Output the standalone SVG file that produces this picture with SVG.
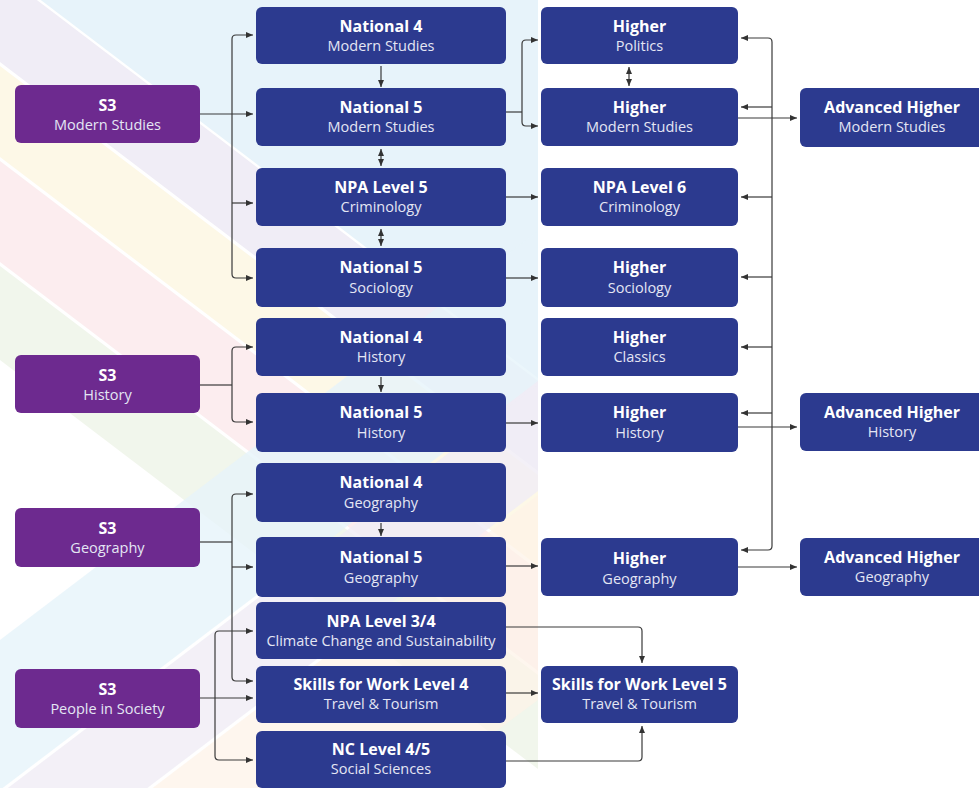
<svg xmlns="http://www.w3.org/2000/svg" width="979" height="788" viewBox="0 0 979 788">
<defs>
<clipPath id="bgclip"><rect x="0" y="0" width="538" height="788"/></clipPath>
<marker id="ah" markerUnits="userSpaceOnUse" markerWidth="8" markerHeight="8" refX="7" refY="3" orient="auto-start-reverse"><path d="M0,0 L7,3 L0,6 z" fill="#333"/></marker>
</defs>
<style>
.n rect{fill:#2c3a8f;}
.p rect{fill:#6d2a8f;}
.t{font-family:"Open Sans","Liberation Sans",sans-serif;font-weight:bold;font-size:16px;fill:#fff;text-anchor:middle;}
.s{font-family:"Open Sans","Liberation Sans",sans-serif;font-size:14.5px;fill:#e4e6f4;text-anchor:middle;}
.c path{fill:none;stroke:#3a3a3a;stroke-width:1.2;}
.a{marker-end:url(#ah);}
.b{marker-start:url(#ah);marker-end:url(#ah);}
</style>
<rect width="979" height="788" fill="#fff"/>
<g id="background" clip-path="url(#bgclip)" opacity="0.75">
<polygon points="0,-450 538,-41 538,378 0,-31" fill="#dff0f9"/>
<polygon points="0,-28 538,381 538,471 0,62" fill="#ebe7f3"/>
<polygon points="0,66 538,475 538,566 0,157" fill="#fdf6e0"/>
<polygon points="0,161 538,570 538,671 0,262" fill="#fbe8ea"/>
<polygon points="0,266 538,675 538,769 0,360" fill="#edf3e6"/>
<polygon points="0,640 538,231 538,381 0,790" fill="#dff0f9" opacity="0.8"/>
<polygon points="0,794 538,385 538,491 0,900" fill="#ebe7f3" opacity="0.8"/>
<polygon points="0,904 538,495 538,700 0,1100" fill="#fdf0e0" opacity="0.7"/>
</g>
<g id="connectors" class="c">
<path class="a" d="M200,114 H253"/>
<path class="b" d="M253,35 H236 Q232,35 232,39 V274 Q232,278 236,278 H253"/>
<path class="a" d="M232,203 H253"/>
<path d="M200,385 H232"/>
<path class="b" d="M253,347 H236 Q232,347 232,351 V418 Q232,422 236,422 H253"/>
<path d="M200,542 H232"/>
<path class="b" d="M253,494 H236 Q232,494 232,498 V677 Q232,681 236,681 H253"/>
<path class="a" d="M232,567 H253"/>
<path class="a" d="M200,698 H253"/>
<path class="b" d="M253,631 H219 Q215,631 215,635 V756 Q215,760 219,760 H253"/>
<path class="a" d="M381,66 V87"/>
<path class="b" d="M381,149 V166"/>
<path class="b" d="M381,229 V246"/>
<path class="a" d="M381,377 V392"/>
<path class="a" d="M381,523 V536"/>
<path d="M506,112 H522"/>
<path class="b" d="M538,40 H526 Q522,40 522,44 V122 Q522,126 526,126 H538"/>
<path class="a" d="M506,197 H538"/>
<path class="a" d="M506,278 H538"/>
<path class="a" d="M506,423 H538"/>
<path class="a" d="M506,566 H538"/>
<path class="a" d="M506,693 H538"/>
<path class="a" d="M506,627 H638 Q642,627 642,631 V663"/>
<path class="a" d="M506,761 H638 Q642,761 642,757 V726"/>
<path class="b" d="M629,67 V86"/>
<path class="a" d="M738,118 H797"/>
<path class="a" d="M738,427 H797"/>
<path class="a" d="M738,567 H797"/>
<path class="b" d="M741,38 H768 Q772,38 772,42 V546 Q772,550 768,550 H741"/>
<path class="a" d="M772,107 H741"/>
<path class="a" d="M772,197 H741"/>
<path class="a" d="M772,277 H741"/>
<path class="a" d="M772,347 H741"/>
<path class="a" d="M772,413 H741"/>
</g>
<g id="s3-modern-studies" class="p"><rect x="15" y="85" width="185" height="58" rx="6"/><text class="t" x="107.5" y="111">S3</text><text class="s" x="107.5" y="130">Modern Studies</text></g>
<g id="s3-history" class="p"><rect x="15" y="355" width="185" height="58" rx="6"/><text class="t" x="107.5" y="381">S3</text><text class="s" x="107.5" y="400">History</text></g>
<g id="s3-geography" class="p"><rect x="15" y="508" width="185" height="59" rx="6"/><text class="t" x="107.5" y="534">S3</text><text class="s" x="107.5" y="553">Geography</text></g>
<g id="s3-people-in-society" class="p"><rect x="15" y="669" width="185" height="59" rx="6"/><text class="t" x="107.5" y="695">S3</text><text class="s" x="107.5" y="714">People in Society</text></g>
<g id="n4-modern-studies" class="n"><rect x="256" y="7" width="250" height="57" rx="6"/><text class="t" x="381" y="32">National 4</text><text class="s" x="381" y="51">Modern Studies</text></g>
<g id="n5-modern-studies" class="n"><rect x="256" y="88" width="250" height="58" rx="6"/><text class="t" x="381" y="113">National 5</text><text class="s" x="381" y="132">Modern Studies</text></g>
<g id="npa5-criminology" class="n"><rect x="256" y="168" width="250" height="58" rx="6"/><text class="t" x="381" y="193">NPA Level 5</text><text class="s" x="381" y="212">Criminology</text></g>
<g id="n5-sociology" class="n"><rect x="256" y="248" width="250" height="59" rx="6"/><text class="t" x="381" y="273">National 5</text><text class="s" x="381" y="293">Sociology</text></g>
<g id="n4-history" class="n"><rect x="256" y="318" width="250" height="58" rx="6"/><text class="t" x="381" y="343">National 4</text><text class="s" x="381" y="362">History</text></g>
<g id="n5-history" class="n"><rect x="256" y="393" width="250" height="59" rx="6"/><text class="t" x="381" y="418">National 5</text><text class="s" x="381" y="438">History</text></g>
<g id="n4-geography" class="n"><rect x="256" y="463" width="250" height="59" rx="6"/><text class="t" x="381" y="488">National 4</text><text class="s" x="381" y="508">Geography</text></g>
<g id="n5-geography" class="n"><rect x="256" y="537" width="250" height="60" rx="6"/><text class="t" x="381" y="563">National 5</text><text class="s" x="381" y="583">Geography</text></g>
<g id="npa34-climate" class="n"><rect x="256" y="602" width="250" height="57" rx="6"/><text class="t" x="381" y="627">NPA Level 3/4</text><text class="s" x="381" y="646">Climate Change and Sustainability</text></g>
<g id="sfw4-travel" class="n"><rect x="256" y="666" width="250" height="57" rx="6"/><text class="t" x="381" y="690">Skills for Work Level 4</text><text class="s" x="381" y="709">Travel &amp; Tourism</text></g>
<g id="nc45-social" class="n"><rect x="256" y="731" width="250" height="57" rx="6"/><text class="t" x="381" y="755">NC Level 4/5</text><text class="s" x="381" y="774">Social Sciences</text></g>
<g id="higher-politics" class="n"><rect x="541" y="7" width="197" height="57" rx="6"/><text class="t" x="639.5" y="32">Higher</text><text class="s" x="639.5" y="51">Politics</text></g>
<g id="higher-modern-studies" class="n"><rect x="541" y="88" width="197" height="58" rx="6"/><text class="t" x="639.5" y="113">Higher</text><text class="s" x="639.5" y="132">Modern Studies</text></g>
<g id="npa6-criminology" class="n"><rect x="541" y="168" width="197" height="58" rx="6"/><text class="t" x="639.5" y="193">NPA Level 6</text><text class="s" x="639.5" y="212">Criminology</text></g>
<g id="higher-sociology" class="n"><rect x="541" y="248" width="197" height="59" rx="6"/><text class="t" x="639.5" y="273">Higher</text><text class="s" x="639.5" y="293">Sociology</text></g>
<g id="higher-classics" class="n"><rect x="541" y="318" width="197" height="58" rx="6"/><text class="t" x="639.5" y="343">Higher</text><text class="s" x="639.5" y="362">Classics</text></g>
<g id="higher-history" class="n"><rect x="541" y="393" width="197" height="59" rx="6"/><text class="t" x="639.5" y="418">Higher</text><text class="s" x="639.5" y="438">History</text></g>
<g id="higher-geography" class="n"><rect x="541" y="538" width="197" height="58" rx="6"/><text class="t" x="639.5" y="564">Higher</text><text class="s" x="639.5" y="584">Geography</text></g>
<g id="sfw5-travel" class="n"><rect x="541" y="666" width="197" height="57" rx="6"/><text class="t" x="639.5" y="690">Skills for Work Level 5</text><text class="s" x="639.5" y="709">Travel &amp; Tourism</text></g>
<g id="ah-modern-studies" class="n"><rect x="800" y="88" width="190" height="59" rx="6"/><text class="t" x="892" y="113">Advanced Higher</text><text class="s" x="892" y="132">Modern Studies</text></g>
<g id="ah-history" class="n"><rect x="800" y="393" width="190" height="58" rx="6"/><text class="t" x="892" y="418">Advanced Higher</text><text class="s" x="892" y="437">History</text></g>
<g id="ah-geography" class="n"><rect x="800" y="538" width="190" height="58" rx="6"/><text class="t" x="892" y="563">Advanced Higher</text><text class="s" x="892" y="582">Geography</text></g>
</svg>
